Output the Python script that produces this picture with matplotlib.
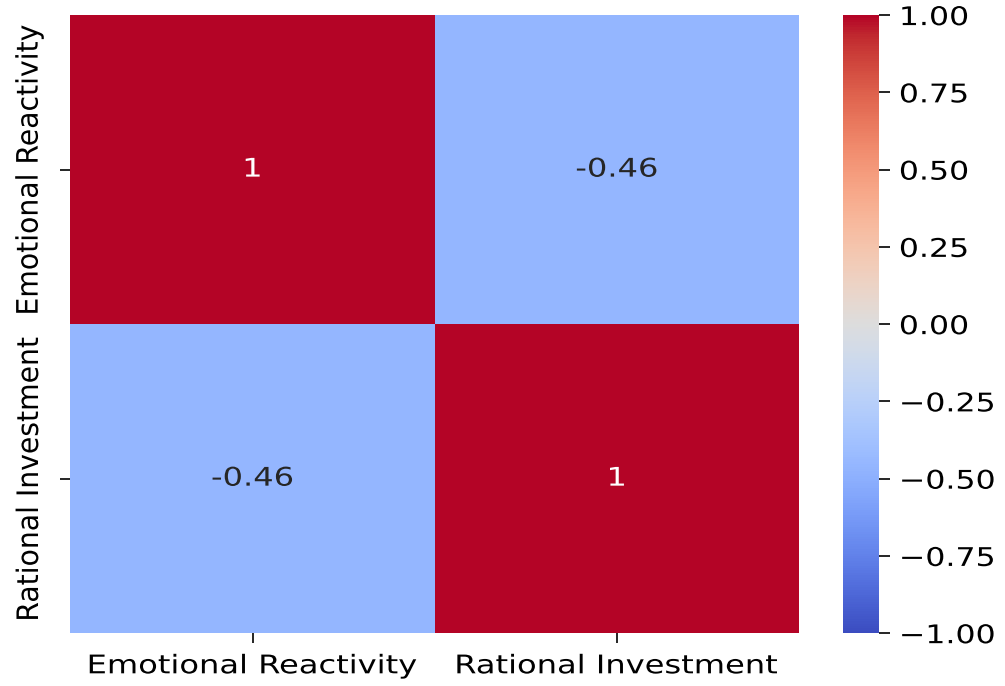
import matplotlib
matplotlib.use("Agg")
import matplotlib.pyplot as plt
from matplotlib.patheffects import AbstractPathEffect
from matplotlib.transforms import Affine2D
import seaborn as sns
import numpy as np
import pandas as pd

labels = ["Emotional Reactivity", "Rational Investment"]
corr_values = [[1.0, -0.46],
               [-0.46, 1.0]]
cbar_ticks = [-1.0, -0.75, -0.5, -0.25, 0.0, 0.25, 0.5, 0.75, 1.0]

corr = pd.DataFrame(corr_values, index=labels, columns=labels)


class Widen(AbstractPathEffect):
    """Stretch glyph outlines along (and optionally across) the text direction."""

    def __init__(self, along, across=1.0, anchor="center"):
        super().__init__()
        self.along, self.across, self.anchor = along, across, anchor

    def draw_path(self, renderer, gc, tpath, affine, rgbFace=None):
        if len(tpath.vertices) == 0:
            return
        ext = tpath.get_extents()
        cx = 0.0 if self.anchor == "left" else (ext.x0 + ext.x1) / 2
        cy = (ext.y0 + ext.y1) / 2
        t = (Affine2D().translate(-cx, -cy)
             .scale(self.along, self.across).translate(cx, cy))
        renderer.draw_path(gc, tpath, t + affine, rgbFace)


fs = 18.5
fig = plt.figure(figsize=(10.05, 6.86), dpi=100)
ax = fig.add_axes([0.070, 0.077, 0.725, 0.901])
cax = fig.add_axes([0.839, 0.077, 0.036, 0.901])

sns.heatmap(corr, annot=True, cmap="coolwarm", vmin=-1, vmax=1,
            ax=ax, cbar_ax=cax, annot_kws={"size": fs})

ax.tick_params(axis="x", labelsize=fs, length=7, width=1.2, pad=7.5)
ax.tick_params(axis="y", labelsize=fs, length=7, width=1.2, pad=13)
cax.tick_params(labelsize=fs, length=8, width=1.2, pad=6)
cax.set_yticks(cbar_ticks)
cax.set_yticklabels([f"{v:.2f}".replace("-", "\u2212") for v in cbar_ticks])

for t in ax.get_xticklabels():
    t.set_path_effects([Widen(1.25)])
for t in ax.get_yticklabels():
    t.set_path_effects([Widen(1.1, 1.15)])
for t in ax.texts:
    t.set_path_effects([Widen(1.25)])
for t in cax.get_yticklabels():
    t.set_path_effects([Widen(1.23, anchor="left")])

fig.savefig("out.png", dpi=100)
